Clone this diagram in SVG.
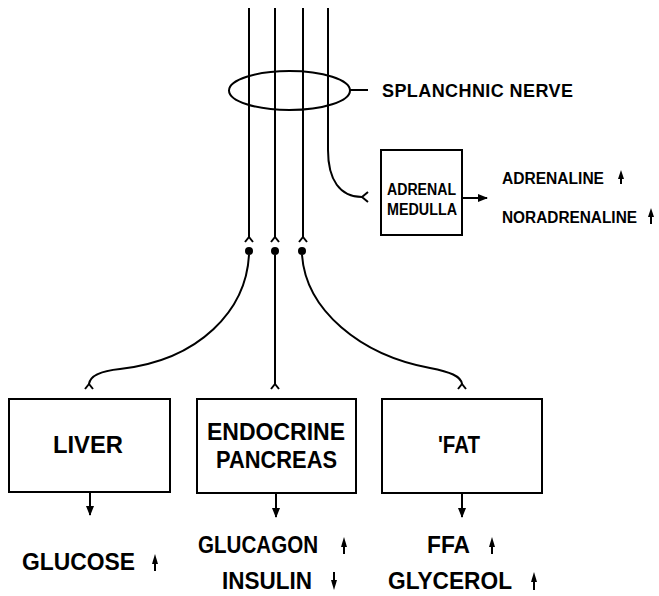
<svg xmlns="http://www.w3.org/2000/svg" width="659" height="596" viewBox="0 0 659 596">
<style>
.ln{fill:none;stroke:#000;stroke-width:2;stroke-linecap:butt}
.bx{fill:#fff;stroke:#000;stroke-width:2}
.t{font-family:"Liberation Sans",Arial,sans-serif;font-weight:bold;fill:#000}
.big{font-size:24px}
.mid{font-size:18px}
.sm{font-size:16px}
.hd{fill:#000;stroke:none}
</style>
<defs>
<marker id="ah" markerWidth="10" markerHeight="8" refX="9" refY="4" orient="auto" markerUnits="userSpaceOnUse">
<path d="M0,0 L10,4 L0,8 Z" fill="#000"/>
</marker>
</defs>
<rect width="659" height="596" fill="#fff"/>

<g id="connectors">
<path class="ln" d="M249,8 V238"/>
<path class="ln" d="M275,8 V238"/>
<path class="ln" d="M303,8 V238"/>
<path class="ln" d="M328,8 V150 C328,180 340,197 362,197"/>
<path class="ln" d="M245,242 L249,237 L253,242"/>
<path class="ln" d="M271,242 L275,237 L279,242"/>
<path class="ln" d="M299,242 L303,237 L307,242"/>
<path class="ln" d="M368,192 L362,197 L368,202"/>
<circle cx="249" cy="251" r="4" class="hd"/>
<circle cx="275" cy="251" r="4" class="hd"/>
<circle cx="302" cy="251" r="4" class="hd"/>
<path class="ln" d="M249,255 C246,310 200,360 120,369 C100,371 90,376 89,384"/>
<path class="ln" d="M275,255 V384"/>
<path class="ln" d="M302,255 C306,310 360,355 430,368 C450,372 461,376 462,384"/>
<path class="ln" d="M85,389 L89,384 L93,389"/>
<path class="ln" d="M271,389 L275,384 L279,389"/>
<path class="ln" d="M458,389 L462,384 L466,389"/>
<path class="ln" d="M350,90 H368"/>
<path class="ln" d="M462,198 H487" marker-end="url(#ah)"/>
<path class="ln" d="M90,492 V515" marker-end="url(#ah)"/>
<path class="ln" d="M276,493 V517" marker-end="url(#ah)"/>
<path class="ln" d="M462,493 V517" marker-end="url(#ah)"/>
</g>

<g id="splanchnic-nerve">
<ellipse cx="289.5" cy="90.5" rx="60.5" ry="19.5" class="ln"/>
<text class="t mid" x="382" y="97" textLength="191" lengthAdjust="spacing">SPLANCHNIC NERVE</text>
</g>

<g id="adrenal-medulla">
<rect class="bx" x="381" y="150" width="81" height="85"/>
<text class="t sm" x="387" y="195" textLength="69" lengthAdjust="spacingAndGlyphs">ADRENAL</text>
<text class="t sm" x="387" y="215" textLength="70" lengthAdjust="spacingAndGlyphs">MEDULLA</text>
</g>

<g id="adrenal-outputs">
<text class="t sm" x="502" y="184" textLength="102" lengthAdjust="spacingAndGlyphs">ADRENALINE</text>
<path class="ln" d="M621,177 V184"/><path class="hd" d="M621,170 L624,179 L618,179 Z"/>
<text class="t sm" x="502" y="223" textLength="135" lengthAdjust="spacingAndGlyphs">NORADRENALINE</text>
<path class="ln" d="M651,215 V224"/><path class="hd" d="M651,208 L654,217 L648,217 Z"/>
</g>

<g id="liver">
<rect class="bx" x="9" y="399" width="161" height="93"/>
<text class="t big" x="53" y="453" textLength="70" lengthAdjust="spacingAndGlyphs">LIVER</text>
</g>

<g id="endocrine-pancreas">
<rect class="bx" x="197" y="399" width="159" height="94"/>
<text class="t big" x="207" y="440" textLength="138" lengthAdjust="spacingAndGlyphs">ENDOCRINE</text>
<text class="t big" x="216" y="468" textLength="121" lengthAdjust="spacingAndGlyphs">PANCREAS</text>
</g>

<g id="fat">
<rect class="bx" x="382" y="399" width="160" height="94"/>
<text class="t big" x="438" y="453" textLength="42" lengthAdjust="spacingAndGlyphs">'FAT</text>
</g>

<g id="liver-output">
<text class="t big" x="22" y="570" textLength="113" lengthAdjust="spacingAndGlyphs">GLUCOSE</text>
<path class="ln" d="M155,561 V571"/><path class="hd" d="M155,554 L158,564 L152,564 Z"/>
</g>

<g id="pancreas-output">
<text class="t big" x="198" y="553" textLength="120" lengthAdjust="spacingAndGlyphs">GLUCAGON</text>
<path class="ln" d="M344,544 V554"/><path class="hd" d="M344,537 L347,547 L341,547 Z"/>
<text class="t big" x="222" y="589" textLength="90" lengthAdjust="spacingAndGlyphs">INSULIN</text>
<path class="ln" d="M334,572 V583"/><path class="hd" d="M334,590 L337,580 L331,580 Z"/>
</g>

<g id="fat-output">
<text class="t big" x="427" y="553" textLength="43" lengthAdjust="spacingAndGlyphs">FFA</text>
<path class="ln" d="M492,544 V554"/><path class="hd" d="M492,537 L495,547 L489,547 Z"/>
<text class="t big" x="388" y="589" textLength="124" lengthAdjust="spacingAndGlyphs">GLYCEROL</text>
<path class="ln" d="M534,579 V590"/><path class="hd" d="M534,572 L537,582 L531,582 Z"/>
</g>
</svg>
